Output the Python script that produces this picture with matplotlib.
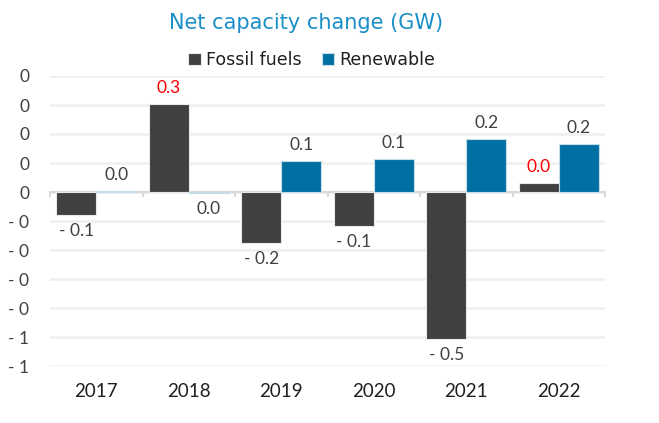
import matplotlib
matplotlib.use("Agg")
import matplotlib.pyplot as plt
import numpy as np

years = ["2017", "2018", "2019", "2020", "2021", "2022"]
fossil = [-0.079, 0.303, -0.176, -0.117, -0.507, 0.031]
renewable = [0.004, -0.004, 0.107, 0.114, 0.183, 0.166]
fossil_label_colors = ["#404040", "#ff0000", "#404040", "#404040", "#404040", "#ff0000"]
yticks = [0.4, 0.3, 0.2, 0.1, 0.0, -0.1, -0.2, -0.3, -0.4, -0.5, -0.6]
ytick_labels = ["0", "0", "0", "0", "0", "- 0", "- 0", "- 0", "- 0", "- 1", "- 1"]

plt.rcParams['font.family'] = ['Lato', 'DejaVu Sans']

fig = plt.figure(figsize=(6.59, 4.23), dpi=100)
ax = fig.add_axes([50/659, 1-366/423, 555/659, 290/423])

x = np.arange(len(years))
w = 0.43
c_f = "#404040"
c_r = "#0070a3"
ax.bar(x - w/2, fossil, w, color=c_f, edgecolor="#e8e8e8", linewidth=0.8, zorder=3, label="Fossil fuels")
ax.bar(x + w/2, renewable, w, color=c_r, edgecolor="#c8dce8", linewidth=0.8, zorder=3, label="Renewable")

def fmt(v):
    s = f"{abs(v):.1f}"
    return ("- " + s) if round(v, 1) < 0 else s

off = 0.028
for i, v in enumerate(fossil):
    if v >= 0:
        ax.text(x[i] - w/2, v + off, fmt(v), ha="center", va="bottom", fontsize=12.5, color=fossil_label_colors[i])
    else:
        ax.text(x[i] - w/2, v - off, fmt(v), ha="center", va="top", fontsize=12.5, color=fossil_label_colors[i])
for i, v in enumerate(renewable):
    if v >= 0:
        ax.text(x[i] + w/2, v + off, fmt(v), ha="center", va="bottom", fontsize=12.5, color="#404040")
    else:
        ax.text(x[i] + w/2, v - off, fmt(v), ha="center", va="top", fontsize=12.5, color="#404040")

ax.set_ylim(-0.6, 0.4)
ax.set_xlim(-0.5, len(years) - 0.5)
ax.set_yticks(yticks)
ax.set_yticklabels(ytick_labels)
ax.yaxis.grid(True, color="#efefef", linewidth=1.8, zorder=0)
ax.tick_params(axis="y", length=0, labelsize=12.5, labelcolor="#404040", pad=15)
ax.set_xticks(x)
ax.set_xticklabels(years)
ax.tick_params(axis="x", length=0, labelsize=13.5, labelcolor="#202020", pad=0)
for s in ["top", "right", "left", "bottom"]:
    ax.spines[s].set_visible(False)
for lbl in ax.get_xticklabels():
    lbl.set_y(-0.06)

# zero axis line with boundary ticks
ax.axhline(0, color="#d9d9d9", linewidth=1.5, zorder=2)
for b in np.arange(-0.5, len(years), 1.0):
    ax.plot([b, b], [0, -0.014], color="#d9d9d9", linewidth=1.5, zorder=2, clip_on=False)

fig.text(306/659, 1-23/423, "Net capacity change (GW)", ha="center", va="center", fontsize=15,
         color="#1a8fc8", family="DejaVu Sans")
ax.legend(loc="center", bbox_to_anchor=(312/659, 1-60/423), bbox_transform=fig.transFigure,
          ncol=2, frameon=False, prop={"family": "DejaVu Sans", "size": 12.5}, handlelength=0.7, handleheight=0.7,
          handletextpad=0.3, columnspacing=1.2, labelcolor="#202020")

fig.savefig("out.png", dpi=100)
